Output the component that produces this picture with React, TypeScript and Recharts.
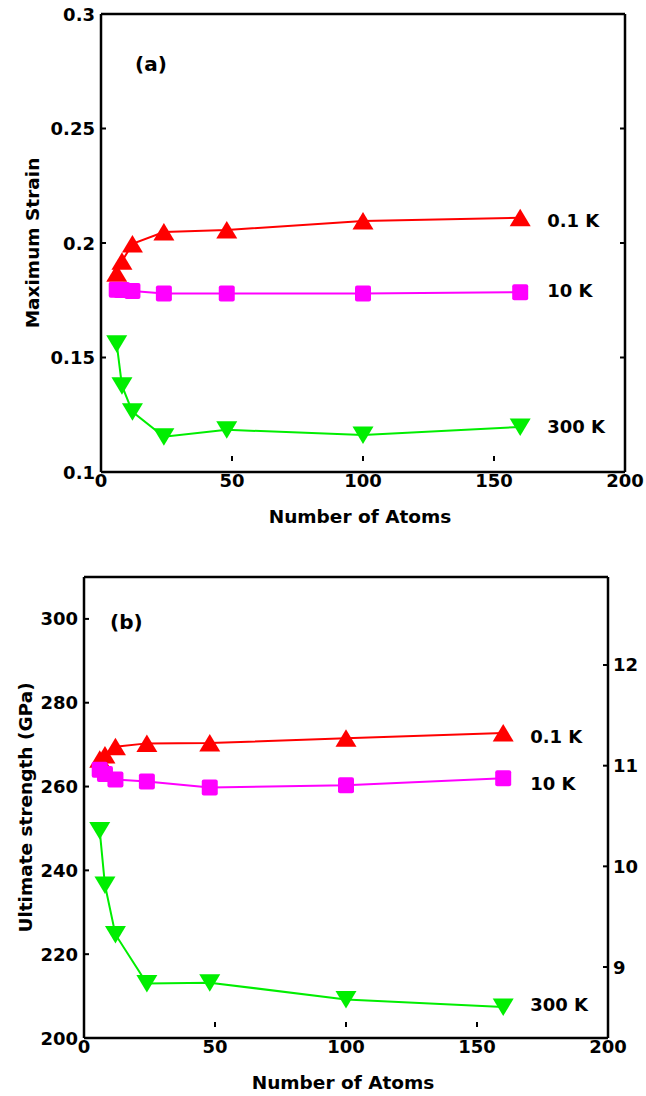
import React from "react";
import { LineChart, Line, XAxis, YAxis, LabelList, Label } from "recharts";

const atoms = [6, 8, 12, 24, 48, 100, 160];
const strain01K = [0.1868, 0.192, 0.1996, 0.2048, 0.2057, 0.2096, 0.211];
const strain10K = [0.1796, 0.1795, 0.179, 0.178, 0.178, 0.178, 0.1785];
const strain300K = [0.156, 0.1377, 0.1263, 0.1154, 0.1184, 0.1162, 0.1197];
const strength01K = [266.5, 267.5, 269.5, 270.3, 270.4, 271.5, 272.8];
const strength10K = [264, 263, 261.7, 261.2, 259.8, 260.3, 262];
const strength300K = [249.5, 236.5, 224.7, 213, 213.2, 209.2, 207.4];
const seriesNames = ["0.1 K", "10 K", "300 K"];
const xTicks = [0, 50, 100, 150, 200];
const strainTicks = [0.1, 0.15, 0.2, 0.25, 0.3];
const strengthTicks = [200, 220, 240, 260, 280, 300];
const rightTicks = [9, 10, 11, 12];

const strainRows = atoms.map((n, i) => ({ n, a: strain01K[i], b: strain10K[i], c: strain300K[i] }));
const strengthRows = atoms.map((n, i) => ({ n, a: strength01K[i], b: strength10K[i], c: strength300K[i] }));

const FONT = "'DejaVu Sans', sans-serif";
const TL = 5;
const MARGIN = 5;

const series = [
  { key: "a", color: "#ff0000", shape: "up" },
  { key: "b", color: "#ff00ff", shape: "square" },
  { key: "c", color: "#00ee00", shape: "down" },
];

function Marker({ cx, cy, shape, color }: any) {
  if (cx == null || cy == null) return null;
  if (shape === "up")
    return <polygon points={`${cx},${cy - 9} ${cx - 10.5},${cy + 8.5} ${cx + 10.5},${cy + 8.5}`} fill={color} />;
  if (shape === "down")
    return <polygon points={`${cx},${cy + 9} ${cx - 10.5},${cy - 8.5} ${cx + 10.5},${cy - 8.5}`} fill={color} />;
  return <rect x={cx - 8} y={cy - 8} width={16} height={16} rx={2} fill={color} />;
}

const txt = { fontFamily: FONT, fontWeight: "bold", fontSize: 18, fill: "#000" } as const;

function LeftTick({ x, y, payload }: any) {
  const ax = x + MARGIN;
  return (
    <g>
      <line x1={ax} x2={ax + TL} y1={y} y2={y} stroke="#000" strokeWidth={2} />
      <text x={x - 1} y={y} textAnchor="end" dominantBaseline="central" {...txt}>{payload.value}</text>
    </g>
  );
}

function RightTick({ x, y, payload }: any) {
  const ax = x - MARGIN;
  return (
    <g>
      <line x1={ax} x2={ax - TL} y1={y} y2={y} stroke="#000" strokeWidth={2} />
      <text x={x} y={y} textAnchor="start" dominantBaseline="central" {...txt}>{payload.value}</text>
    </g>
  );
}

function BottomTick({ x, y, payload }: any) {
  const ay = y - 13;
  return (
    <g>
      <line x1={x} x2={x} y1={ay} y2={ay - TL} stroke="#000" strokeWidth={2} />
      <text x={x} y={y} textAnchor="middle" dy="0.73em" {...txt}>{payload.value}</text>
    </g>
  );
}

function TopMark({ x, y }: any) {
  return <line x1={x} x2={x} y1={y} y2={y + TL} stroke="#000" strokeWidth={2} />;
}

function RightMark({ x, y }: any) {
  return <line x1={x} x2={x - TL} y1={y} y2={y} stroke="#000" strokeWidth={2} />;
}

const axisLine = { stroke: "#000", strokeWidth: 2.5 };

function XTitle({ viewBox }: any) {
  return (
    <text x={viewBox.x + viewBox.width / 2 - 3} y={viewBox.y + 51} textAnchor="middle" {...txt} fontSize={18.5}>
      Number of Atoms
    </text>
  );
}

function yTitle(text: string, cx: number) {
  return ({ viewBox }: any) => {
    const cy = viewBox.y + viewBox.height / 2;
    return (
      <text x={cx} y={cy} transform={`rotate(-90 ${cx} ${cy})`} textAnchor="middle" dominantBaseline="central" {...txt} fontSize={18.5}>
        {text}
      </text>
    );
  };
}

function seriesLines(dys: number[]) {
  return series.map((s, si) => (
    <Line
      key={s.key}
      xAxisId="b"
      yAxisId="l"
      dataKey={s.key}
      stroke={s.color}
      strokeWidth={2}
      isAnimationActive={false}
      dot={(p: any) => <Marker key={`${s.key}-${p.index}`} cx={p.cx} cy={p.cy} shape={s.shape} color={s.color} />}
      activeDot={false}
    >
      <LabelList
        dataKey={s.key}
        content={(p: any) =>
          p.index === atoms.length - 1 ? (
            <text x={p.x + 27} y={p.y + dys[si]} dominantBaseline="central" {...txt}>
              {seriesNames[si]}
            </text>
          ) : null
        }
      />
    </Line>
  ));
}

export default function App() {
  return (
    <div style={{ position: "absolute", left: 0, top: 0, width: 646, height: 1096, overflow: "hidden", background: "#fff" }}>
      <div style={{ position: "absolute", left: 0, top: 0 }}>
        <LineChart width={646} height={530} data={strainRows} margin={{ top: 13, right: 20, bottom: 0, left: 0 }}>
          <XAxis xAxisId="b" dataKey="n" type="number" domain={[0, 200]} ticks={xTicks} interval={0} allowDataOverflow
            height={58} tickSize={0} tickLine={false} axisLine={axisLine} tick={<BottomTick />}>
            <Label content={<XTitle />} />
          </XAxis>
          <XAxis xAxisId="t" orientation="top" type="number" domain={[0, 200]} ticks={xTicks} interval={0} allowDataOverflow
            height={1} tickSize={0} tickMargin={0} tickLine={false} axisLine={axisLine} tick={<TopMark />} />
          <YAxis yAxisId="l" type="number" domain={[0.1, 0.3]} ticks={strainTicks} interval={0} allowDataOverflow
            width={101} tickSize={0} tickMargin={MARGIN} tickLine={false} axisLine={axisLine} tick={<LeftTick />}>
            <Label content={yTitle("Maximum Strain", 32)} />
          </YAxis>
          <YAxis yAxisId="r" orientation="right" type="number" domain={[0.1, 0.3]} ticks={strainTicks} interval={0} allowDataOverflow
            width={1} tickSize={0} tickMargin={0} tickLine={false} axisLine={axisLine} tick={<RightMark />} />
          {seriesLines([3, -2, 0])}
        </LineChart>
      </div>
      <div style={{ position: "absolute", left: 0, top: 540 }}>
        <LineChart width={646} height={556} data={strengthRows} margin={{ top: 36, right: 0, bottom: 0, left: 0 }}>
          <XAxis xAxisId="b" dataKey="n" type="number" domain={[0, 200]} ticks={xTicks} interval={0} allowDataOverflow
            height={58} tickSize={0} tickLine={false} axisLine={axisLine} tick={<BottomTick />}>
            <Label content={<XTitle />} />
          </XAxis>
          <XAxis xAxisId="t" orientation="top" type="number" domain={[0, 200]} ticks={xTicks} interval={0} allowDataOverflow
            height={1} tickSize={0} tickMargin={0} tickLine={false} axisLine={axisLine} tick={<TopMark />} />
          <YAxis yAxisId="l" type="number" domain={[200, 310]} ticks={strengthTicks} interval={0} allowDataOverflow
            width={84} tickSize={0} tickMargin={MARGIN} tickLine={false} axisLine={axisLine} tick={<LeftTick />}>
            <Label content={yTitle("Ultimate strength (GPa)", 25)} />
          </YAxis>
          <YAxis yAxisId="r" orientation="right" type="number" domain={[8.295, 12.874]} ticks={rightTicks} interval={0} allowDataOverflow
            width={38} tickSize={0} tickMargin={MARGIN} tickLine={false} axisLine={axisLine} tick={<RightTick />} />
          {seriesLines([4, 5, -2])}
        </LineChart>
      </div>
      <div style={{ position: "absolute", left: 135, top: 51, fontFamily: FONT, fontWeight: "bold", fontSize: 20, lineHeight: "26px" }}>(a)</div>
      <div style={{ position: "absolute", left: 110, top: 609, fontFamily: FONT, fontWeight: "bold", fontSize: 20, lineHeight: "26px" }}>(b)</div>
    </div>
  );
}
